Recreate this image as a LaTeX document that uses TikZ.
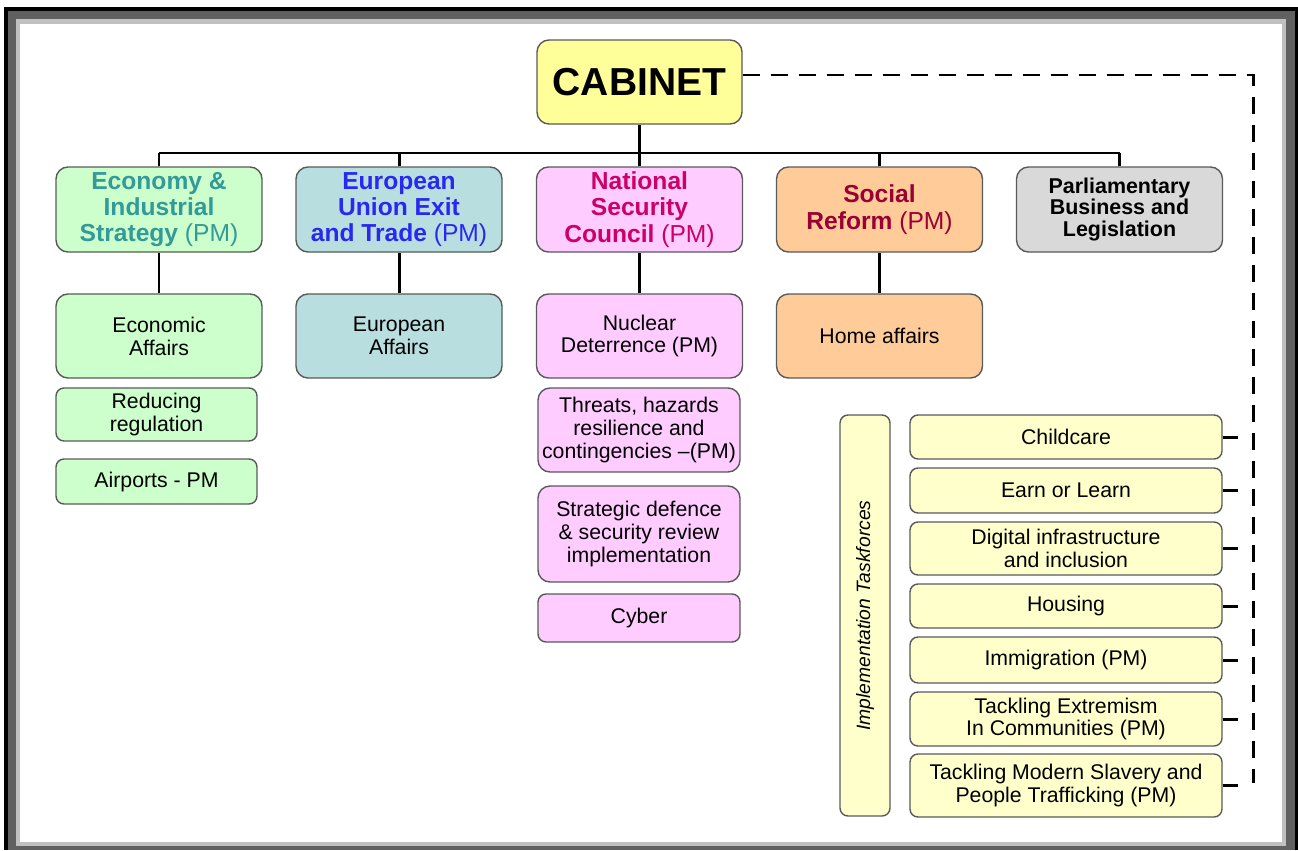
\documentclass[tikz,border=0pt]{standalone}
\usepackage{fontspec}
\setmainfont{Liberation Sans}
\usetikzlibrary{positioning, calc}
\definecolor{CabYellow}{RGB}{255,255,153}
\definecolor{EcoGreen}{RGB}{204,255,204}
\definecolor{EcoText}{RGB}{51,153,153}
\definecolor{EuBlue}{RGB}{185,222,224}
\definecolor{EuText}{RGB}{40,40,240}
\definecolor{NscPink}{RGB}{255,204,255}
\definecolor{NscText}{RGB}{204,0,102}
\definecolor{SocPeach}{RGB}{255,204,153}
\definecolor{SocText}{RGB}{153,0,51}
\definecolor{ParGray}{RGB}{217,217,217}
\definecolor{TfYellow}{RGB}{255,255,204}
\definecolor{EdgeGray}{RGB}{90,90,90}
\definecolor{FrameDark}{RGB}{96,96,96}
\definecolor{FrameLight}{RGB}{192,192,192}

\begin{document}
\begin{tikzpicture}[
  box/.style={rectangle, rounded corners=0.24cm, draw=EdgeGray,
              line width=0.8pt, align=center, inner sep=0pt,
              minimum width=4.12cm, minimum height=1.68cm,
              font=\fontsize{12.1}{13}\selectfont},
  head/.style={box, minimum height=1.70cm,
               font=\fontsize{14}{15}\selectfont\bfseries},
  smallbox/.style={box, rounded corners=0.16cm},
  tfbox/.style={smallbox, fill=TfYellow, minimum width=6.24cm},
  link/.style={black, line width=1.7pt},
  dashline/.style={black, line width=1.7pt, dash pattern=on 0.34cm off 0.22cm},
]

% Frame
\useasboundingbox (0,0) rectangle (25.96,-17.0);
\fill[black] (0.08,-0.14) rectangle (25.96,-17.0);
\fill[FrameDark] (0.16,-0.22) rectangle (25.90,-17.0);
\fill[FrameLight] (0.32,-0.38) rectangle (25.72,-16.92);
\fill[white] (0.40,-0.48) rectangle (25.64,-16.84);

% Cabinet
\node[box, fill=CabYellow, minimum width=4.10cm,
      font=\fontsize{22.2}{26}\selectfont\bfseries] (cabinet) at (12.79,-1.64) {CABINET};

% Committees
\node[head, fill=EcoGreen, text=EcoText] (eco) at (3.18,-4.19)
  {Economy \&\\Industrial\\Strategy {\mdseries(PM)}};
\node[head, fill=EuBlue, text=EuText] (eu) at (7.98,-4.19)
  {European\\Union Exit\\and Trade {\mdseries(PM)}};
\node[head, fill=NscPink, text=NscText] (nsc) at (12.79,-4.19)
  {National\\Security\\Council {\mdseries(PM)}};
\node[head, fill=SocPeach, text=SocText] (soc) at (17.59,-4.19)
  {Social\\Reform {\mdseries(PM)}};
\node[head, fill=ParGray, font=\fontsize{12.2}{12.5}\selectfont\bfseries] (par) at (22.39,-4.19)
  {Parliamentary\\Business and\\Legislation};

% Sub-committees
\node[box, fill=EcoGreen] (ecoaff) at (3.18,-6.72) {Economic\\Affairs};
\node[smallbox, fill=EcoGreen, minimum width=4.02cm, minimum height=1.06cm] (redreg)
  at (3.13,-8.29) {Reducing\\regulation};
\node[smallbox, fill=EcoGreen, minimum width=4.02cm, minimum height=0.90cm] (airports)
  at (3.13,-9.63) {Airports - PM};
\node[box, fill=EuBlue] (euaff) at (7.98,-6.72) {European\\Affairs};
\node[box, fill=NscPink] (nuclear) at (12.79,-6.72) {Nuclear\\Deterrence (PM)};
\node[box, fill=NscPink, minimum width=4.04cm] (threats) at (12.78,-8.60)
  {Threats, hazards\\resilience and\\contingencies --(PM)};
\node[box, fill=NscPink, minimum width=4.04cm, minimum height=1.92cm] (sdsr)
  at (12.78,-10.68) {Strategic defence\\\& security review\\implementation};
\node[smallbox, fill=NscPink, minimum width=4.04cm, minimum height=0.96cm] (cyber)
  at (12.78,-12.36) {Cyber};
\node[box, fill=SocPeach] (home) at (17.59,-6.72) {Home affairs};

% Implementation taskforces
\node[smallbox, fill=TfYellow, rotate=90, minimum width=8.02cm, minimum height=1.0cm,
      font=\fontsize{11}{13}\selectfont\itshape] (impl) at (17.30,-12.31)
  {Implementation Taskforces};
\node[tfbox, minimum height=0.88cm] (tf1) at (21.32,-8.74) {Childcare};
\node[tfbox, minimum height=0.90cm] (tf2) at (21.32,-9.81) {Earn or Learn};
\node[tfbox, minimum height=1.06cm] (tf3) at (21.32,-10.97) {Digital infrastructure\\and inclusion};
\node[tfbox, minimum height=0.88cm] (tf4) at (21.32,-12.12) {Housing};
\node[tfbox, minimum height=0.92cm] (tf5) at (21.32,-13.20) {Immigration (PM)};
\node[tfbox, minimum height=1.08cm] (tf6) at (21.32,-14.38) {Tackling Extremism\\In Communities (PM)};
\node[tfbox, minimum height=1.26cm] (tf7) at (21.32,-15.71) {Tackling Modern Slavery and\\People Trafficking (PM)};

% Tree lines
\coordinate (busL) at (3.18,-3.06);
\coordinate (busR) at (22.39,-3.06);
\draw[link] (busL) -- (busR);
\draw[link] (cabinet.south) -- (cabinet.south |- busL);
\foreach \h in {eco, eu, nsc, soc, par}
  \draw[link] (\h.north) -- (\h.north |- busL);
\draw[link] (eco) -- (ecoaff);
\draw[link] (eu) -- (euaff);
\draw[link] (nsc) -- (nuclear);
\draw[link] (soc) -- (home);

% Dashed link to taskforces
\coordinate (dashend) at (25.06,-15.66);
\coordinate (tick) at (24.76,-8.74);
\draw[dashline] ([yshift=0.14cm]cabinet.east) -| (dashend);
\foreach \t in {tf1, tf2, tf3, tf4, tf5, tf6, tf7}
  \draw[link] (\t.east) -- (\t.east -| tick);

\end{tikzpicture}
\end{document}
